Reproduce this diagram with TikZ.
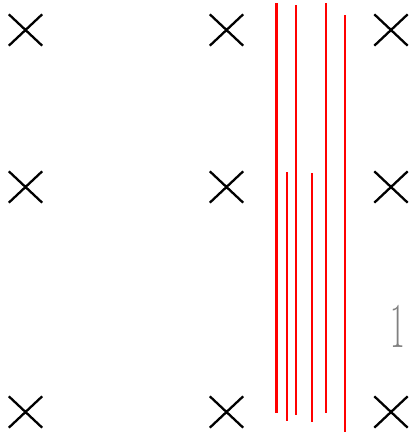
\documentclass[tikz,border=0pt]{standalone}
\usetikzlibrary{shapes.misc}
\begin{document}
\begin{tikzpicture}[x=1pt,y=-1pt,
  crossmark/.style={draw=black,line width=2.3pt,cross out,minimum width=31pt,minimum height=29pt,inner sep=0pt},
  redline/.style={draw=red,line width=2.2pt}]
\useasboundingbox (0,0) rectangle (409,437);
\foreach \r/\yy in {a/30,b/187,c/412}{
  \foreach \c/\xx in {1/25.5,2/226.5,3/391}{
    \node[crossmark] (x\r\c) at (\xx,\yy) {};
  }
}
\coordinate (l1t) at (276.5,3);   \coordinate (l1b) at (276.5,413);
\coordinate (l2t) at (287,172);   \coordinate (l2b) at (287,421);
\coordinate (l3t) at (296,5);     \coordinate (l3b) at (296,415);
\coordinate (l4t) at (312,173);   \coordinate (l4b) at (312,422);
\coordinate (l5t) at (326,3);     \coordinate (l5b) at (326,413);
\coordinate (l6t) at (345,15);    \coordinate (l6b) at (345,432);
\foreach \i in {1,...,6}{\draw[redline] (l\i t) -- (l\i b);}
\node[text=gray,font=\fontsize{64}{64}\selectfont,inner sep=0pt] (one) at (397.5,326) {\scalebox{0.5}[1]{1}};
\end{tikzpicture}
\end{document}
